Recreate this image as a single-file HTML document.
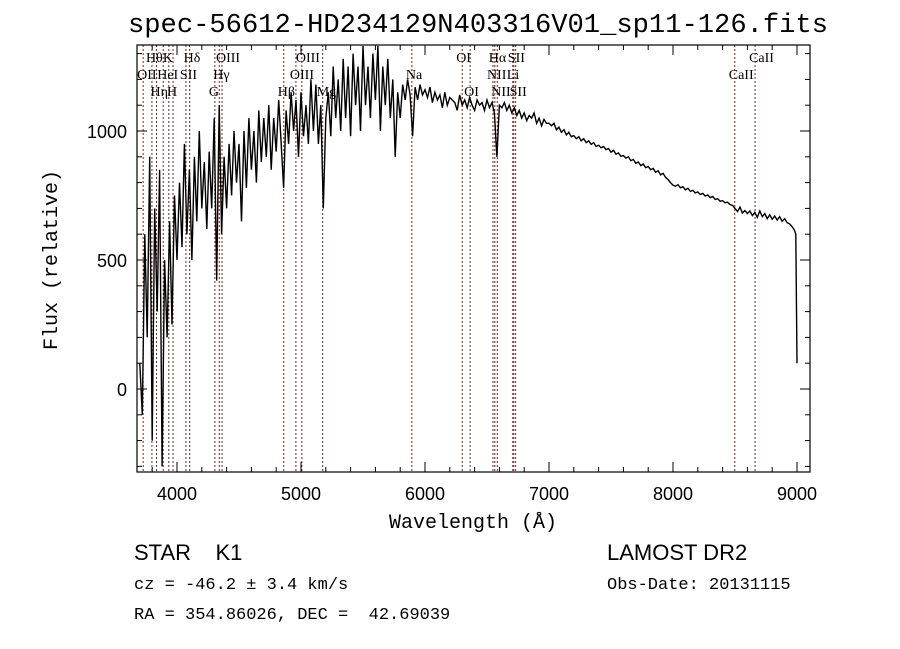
<!DOCTYPE html>
<html><head><meta charset="utf-8"><style>
body{margin:0;background:#fff;}
svg{display:block;}
text{fill:#000;}
</style></head><body>
<svg id="chart" width="900" height="649" xmlns="http://www.w3.org/2000/svg">
<rect width="900" height="649" fill="#fff"/>
<text x="478" y="32" font-family="Liberation Mono, monospace" font-size="27" textLength="700" lengthAdjust="spacingAndGlyphs" text-anchor="middle">spec-56612-HD234129N403316V01_sp11-126.fits</text>
<g id="lines"></g>
<g id="labels"></g>
<path id="spec" fill="none" stroke="#000" stroke-width="1.4"/>
<rect x="137" y="45" width="673" height="427" fill="none" stroke="#000" stroke-width="1.2"/>
<g id="ticks"></g>
<text x="473" y="528" font-family="Liberation Mono, monospace" font-size="20" text-anchor="middle">Wavelength (Å)</text>
<text transform="translate(57,260) rotate(-90)" font-family="Liberation Mono, monospace" font-size="20" text-anchor="middle">Flux (relative)</text>
<text x="134" y="560" font-family="Liberation Sans, sans-serif" font-size="22" xml:space="preserve">STAR    K1</text>
<text x="607" y="560" font-family="Liberation Sans, sans-serif" font-size="22">LAMOST DR2</text>
<text x="134" y="589" font-family="Liberation Mono, monospace" font-size="17">cz = -46.2 ± 3.4 km/s</text>
<text x="607" y="589" font-family="Liberation Mono, monospace" font-size="17">Obs-Date: 20131115</text>
<text x="134" y="619" font-family="Liberation Mono, monospace" font-size="17" xml:space="preserve">RA = 354.86026, DEC =  42.69039</text>
</svg>
<script>
const waveStart=3700;
const waveStep=20;
const blueFlux=[100,-100,600,200,900,-200,700,300,850,-300,500,200,650,250,750,500,800,550,950,600,850,500,900,650,1000,700,880,620,920,700,1050,420,1100,600,900,700,950,750,1000,800,950,650,1000,780,1050,850,1000,800,1080,880,1050,900,1100,850,1050,920,1120,950,780,1080,950,1150,1000,1120,900,1150,980,1100,950,1200,1000,1180,950,1100,700,1050,1150,980,1250,1050,1200,1000,1280,1050,1250,980,1300,1100,1250,1000,1330,1100,1250,1050,1300,1120,1330,1000,1250,1100,1280,1050,1200,900,1150,1050];
const redFlux=[1180,1120,1200,1140,980,1170,1120,1180,1140,1160,
1130,1170,1110,1150,1120,1140,1090,1150,1100,1130,
1120,1110,1080,1140,1100,1120,1090,1130,1100,1080,
1120,1100,1110,1080,1120,1090,1110,1070,900,1100,
1090,1110,1080,1100,1070,1090,1060,1080,1050,1070,
1040,1060,1050,1070,1030,1050,1020,1045,1030,1030,
1020,1030,1005,1015,995,1005,985,995,978,982,
970,978,962,970,955,962,948,955,940,945,
935,940,928,932,918,925,910,915,902,905,
895,900,885,890,875,880,866,872,858,862,
850,855,840,846,830,836,820,812,800,790,
786,792,780,784,772,778,766,770,760,764,
754,758,748,752,742,746,735,738,728,730,
722,724,715,712,700,688,705,682,692,680,
690,672,685,665,690,668,680,660,675,658,
670,655,668,650,660,645,640,630,615];
const endWaves=[8990,9000];
const endFlux=[600,100];
const lineWaves=[3727,3798,3835,3889,3934,3968,4072,4102,4305,4341,4363,4861,4959,5007,5175,5894,6300,6364,6548,6563,6583,6708,6716,6731,8498,8662];
const labelText=['OII','Hθ','Hη','HeI','K','H','SII','Hδ','G','Hγ','OIII','Hβ','OIII','OIII','Mg','Na','OI','OI','NII','Hα','NII','Li','SII','SII','CaII','CaII'];
const labelRow=[1,0,2,1,0,2,1,0,2,1,0,2,1,0,2,1,0,2,1,0,2,1,0,2,1,0];
const xTicks=[4000,5000,6000,7000,8000,9000];
const yTicks=[0,500,1000];
const X0=137,X1=810,Y0=45,Y1=472;
const xs=l=>177+(l-4000)*0.124;
const ys=f=>389-f*0.258;
const NS='http://www.w3.org/2000/svg';
const clamp=(v,a,b)=>Math.max(a,Math.min(b,v));
const allFlux=blueFlux.concat(redFlux);
const pts=allFlux.map((f,i)=>[waveStart+waveStep*i,f]);
endWaves.forEach((w,i)=>pts.push([w,endFlux[i]]));
let d='';
pts.forEach((p,i)=>{d+=(i?'L':'M')+xs(p[0]).toFixed(1)+','+clamp(ys(p[1]),Y0,Y1).toFixed(1);});
document.getElementById('spec').setAttribute('d',d);
const lg=document.getElementById('lines'),lb=document.getElementById('labels');
for(let i=0;i<lineWaves.length;i++){
 const x=xs(lineWaves[i]);
 const ln=document.createElementNS(NS,'line');
 
 
 ln.setAttribute('x1',x);ln.setAttribute('x2',x);ln.setAttribute('y1',Y0);ln.setAttribute('y2',Y1);
 ln.setAttribute('stroke','#7a2020');ln.setAttribute('stroke-width','1');ln.setAttribute('stroke-dasharray','2,2');
 lg.appendChild(ln);
 const t=document.createElementNS(NS,'text');
 
 
 t.setAttribute('x',x-6);t.setAttribute('y',62+labelRow[i]*17);
 t.setAttribute('font-family','Liberation Serif, serif');t.setAttribute('font-size','14');
 t.textContent=labelText[i];
 lb.appendChild(t);
}
const tg=document.getElementById('ticks');
function tick(x1,y1,x2,y2){const l=document.createElementNS(NS,'line');
 
 
 l.setAttribute('x1',x1);l.setAttribute('y1',y1);l.setAttribute('x2',x2);l.setAttribute('y2',y2);l.setAttribute('stroke','#000');tg.appendChild(l);}
function label(x,y,s,anchor){const t=document.createElementNS(NS,'text');
 
 
 t.setAttribute('x',x);t.setAttribute('y',y);t.setAttribute('text-anchor',anchor);
 t.setAttribute('font-family','Liberation Sans, sans-serif');t.setAttribute('font-size','18');t.textContent=s;tg.appendChild(t);}
for(let l=3800;l<=9000;l+=200){const x=xs(l);if(x<X0||x>X1)continue;const maj=l%1000===0;const h=maj?10:5;tick(x,Y1,x,Y1-h);tick(x,Y0,x,Y0+h);}
xTicks.forEach(v=>label(xs(v),500,String(v),'middle'));
for(let f=-300;f<=1300;f+=100){const y=ys(f);if(y<Y0||y>Y1)continue;const maj=f%500===0;const h=maj?10:5;tick(X0,y,X0+h,y);tick(X1,y,X1-h,y);}
yTicks.forEach(v=>label(127,ys(v)+7,String(v),'end'));
</script>
</body></html>
